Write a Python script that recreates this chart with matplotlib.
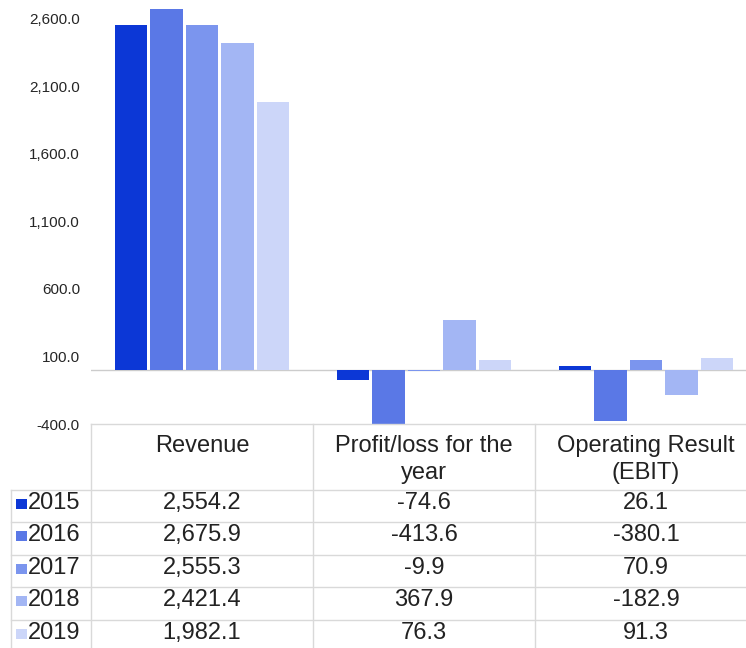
import matplotlib
matplotlib.use("Agg")
import matplotlib.pyplot as plt
from matplotlib.lines import Line2D
from matplotlib.patches import Rectangle
from matplotlib import transforms

plt.rcParams['font.family'] = ['Liberation Sans', 'DejaVu Sans']

categories = ["Revenue", "Profit/loss for the\nyear", "Operating Result\n(EBIT)"]
years = ["2015", "2016", "2017", "2018", "2019"]
values = {
    "2015": [2554.2, -74.6, 26.1],
    "2016": [2675.9, -413.6, -380.1],
    "2017": [2555.3, -9.9, 70.9],
    "2018": [2421.4, 367.9, -182.9],
    "2019": [1982.1, 76.3, 91.3],
}
colors = ["#0c37d6", "#5a78e6", "#7b95ee", "#a3b6f4", "#ccd6f9"]
yticks = [-400, 100, 600, 1100, 1600, 2100, 2600]

W, H = 746, 648


def fx(x):
    return x / W


def fy(y):
    return 1 - y / H


fig = plt.figure(figsize=(W / 100, H / 100), dpi=100)
ax = fig.add_axes([fx(91), fy(424), 666 / W, 424 / H])

xs = list(range(len(categories)))
for i, yr in enumerate(years):
    ax.bar([x + (i - 2) * 0.16 for x in xs], values[yr], width=0.145,
           color=colors[i], edgecolor='none', zorder=3)

ax.axhline(0, color='#cccccc', lw=1, zorder=2)
ax.set_xlim(-0.5, 2.5)
ax.set_ylim(-400, 2740)
ax.set_yticks(yticks)
ax.set_yticklabels([f"{v:,.1f}" for v in yticks])
ax.set_xticks([])
ax.tick_params(axis='y', length=0, pad=8, labelsize=11, labelcolor='#262626')
for s in ax.spines.values():
    s.set_visible(False)

# data table under the chart
grid = '#d9d9d9'
txt = '#222222'
head_top = 424
row_top = 490
row_h = 32.4
bounds = [91, 313, 535, 757]
blend = transforms.blended_transform_factory(ax.transData, fig.transFigure)


def hline(y, x0, x1):
    fig.add_artist(Line2D([fx(x0), fx(x1)], [fy(y), fy(y)], transform=fig.transFigure,
                          color=grid, lw=1))


def vline(x, y0, y1):
    fig.add_artist(Line2D([fx(x), fx(x)], [fy(y0), fy(y1)], transform=fig.transFigure,
                          color=grid, lw=1))


hline(head_top, 91, W)
for k in range(len(years)):
    hline(row_top + k * row_h, 11, W)
for b in bounds[:-1]:
    vline(b, head_top, H)
vline(11, row_top, H)

for j, cat in enumerate(categories):
    for n, line in enumerate(cat.split("\n")):
        fig.text(j, fy(head_top + 28 + n * 26.7), line, transform=blend, ha='center',
                 va='baseline', fontsize=17, color=txt)

for k, yr in enumerate(years):
    base = row_top + k * row_h + 19
    fig.add_artist(Rectangle((fx(16), fy(base)), 10.5 / W, 10 / H,
                             transform=fig.transFigure, color=colors[k], lw=0))
    fig.text(fx(28), fy(base), yr, ha='left', va='baseline', fontsize=17, color=txt)
    for j in xs:
        fig.text(j, fy(base), f"{values[yr][j]:,.1f}", transform=blend, ha='center',
                 va='baseline', fontsize=17, color=txt)

fig.savefig("out.png", dpi=100)
